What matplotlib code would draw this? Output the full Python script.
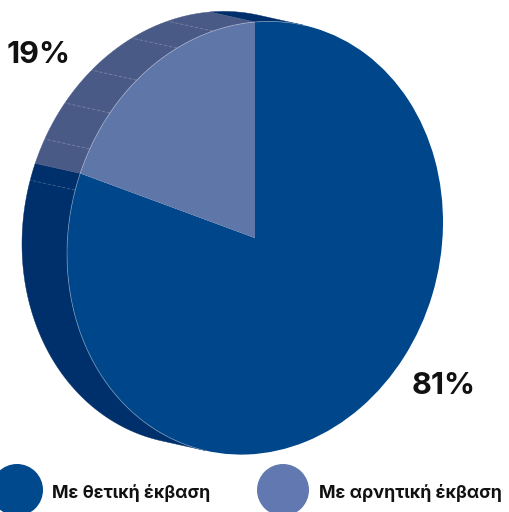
import numpy as np
import matplotlib
matplotlib.use("Agg")
import matplotlib.pyplot as plt
from matplotlib.transforms import Affine2D
from matplotlib.patches import Polygon, Circle

# ---- data ----
categories = ["Με θετική έκβαση", "Με αρνητική έκβαση"]
shares = [81, 19]
pct_labels = ["81%", "19%"]

# ---- style ----
top_colors = ["#00468a", "#5f76a8"]
side_colors = ["#00306b", "#4a5a86"]
legend_colors = ["#00498c", "#6179b0"]
FONT = ["Inter", "DejaVu Sans"]

W, H = 509, 512
fig = plt.figure(figsize=(W / 100, H / 100), dpi=100)
ax = fig.add_axes([0, 0, 1, 1])

wedges, _ = ax.pie(shares, colors=top_colors, startangle=90, counterclock=False,
                   radius=1, wedgeprops=dict(linewidth=0))

# projection of the unit pie onto the tilted top face (pixel space)
proj = Affine2D().from_values(188, -16, 0, -216, 255, 238)
extr_px = np.array([-45.0, -10.0])           # extrusion direction in pixels
Minv = np.linalg.inv(np.array([[188, 0], [-16, -216]], float))
d = Minv @ extr_px                            # extrusion in unit coords
vis_center = np.degrees(np.arctan2(d[1], d[0]))
vis_lo, vis_hi = vis_center - 90, vis_center + 90

ax.set_aspect("auto")
ax.set_xlim(0, W)
ax.set_ylim(H, 0)
ax.axis("off")
tr = proj + ax.transData

# side walls
for w, sc in zip(wedges, side_colors):
    t1, t2 = w.theta1, w.theta2
    for shift in (-360, 0, 360):
        a = max(t1 + shift, vis_lo)
        b = min(t2 + shift, vis_hi)
        if b <= a:
            continue
        ph = np.radians(np.linspace(a, b, 200))
        arc = np.column_stack([np.cos(ph), np.sin(ph)])
        poly = np.vstack([arc, (arc + d)[::-1]])
        ax.add_patch(Polygon(poly, closed=True, facecolor=sc, edgecolor=sc,
                             linewidth=0.3, transform=tr, zorder=1))

# faint facet lines on the side
for ang in [103, 114.5, 129, 140.5, 151.5, 163]:
    p = np.radians(ang)
    u = np.array([np.cos(p), np.sin(p)])
    seg = np.vstack([u, u + d])
    ax.plot(seg[:, 0], seg[:, 1], color="white", alpha=0.25, lw=0.6,
            ls=(0, (4, 2)), transform=tr, zorder=2)

# top face edge highlight on visible arc
ph = np.radians(np.linspace(vis_lo, vis_hi, 300))
ax.plot(np.cos(ph), np.sin(ph), color="white", alpha=0.35, lw=0.6,
        transform=tr, zorder=4)

for w in wedges:
    w.set_transform(tr)
    w.set_zorder(3)

# percentage labels
ax.text(444, 386, pct_labels[0], fontsize=22, fontweight="bold", family=FONT,
        ha="center", va="center", color="#111111")
ax.text(39, 55, pct_labels[1], fontsize=22, fontweight="bold", family=FONT,
        ha="center", va="center", color="#111111")

# legend
leg_pos = [(17, 490, 52), (283, 490, 319)]
for (cx, cy, tx), col, lab in zip(leg_pos, legend_colors, categories):
    ax.add_patch(Circle((cx, cy), 26, facecolor=col, edgecolor="none", zorder=5))
    ax.text(tx, cy + 3, lab, fontsize=12.8, fontweight="bold", family=FONT,
            ha="left", va="center", color="#111111", zorder=6)

fig.savefig("out.png", dpi=100)
